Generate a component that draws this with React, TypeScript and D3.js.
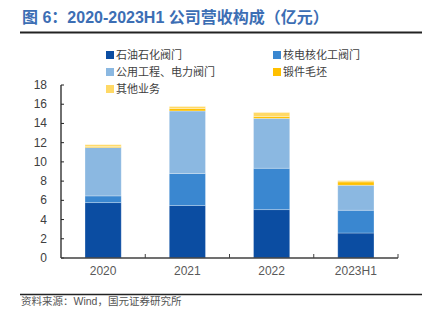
import React from "react";
import * as d3 from "d3";

const categories = ["2020", "2021", "2022", "2023H1"];
const seriesNames = ["石油石化阀门", "核电核化工阀门", "公用工程、电力阀门", "锻件毛坯", "其他业务"];
const petro = [5.76, 5.45, 5.03, 2.6];
const nuclear = [0.7, 3.33, 4.31, 2.37];
const utility = [5.03, 6.52, 5.19, 2.6];
const forging = [0.1, 0.25, 0.19, 0.35];
const other = [0.2, 0.21, 0.42, 0.13];
const yTicks = [0, 2, 4, 6, 8, 10, 12, 14, 16, 18];
const colors = ["#0B4DA2", "#3A87D0", "#8BB8E1", "#FFC000", "#FFD966"];

const W = 428;
const H = 325;
const plot = { left: 61, right: 398, top: 85, bottom: 258 };
const cjk = "'Noto Sans CJK SC', sans-serif";
const latin = "'Liberation Sans', Arial, sans-serif";

export default function App() {
  const x = d3.scaleBand().domain(categories).range([plot.left, plot.right]).paddingInner(0.57).paddingOuter(0.285);
  const y = d3.scaleLinear().domain([0, 18]).range([plot.bottom, plot.top]);
  const table = categories.map((c, i) => ({
    cat: c,
    s0: petro[i],
    s1: nuclear[i],
    s2: utility[i],
    s3: forging[i],
    s4: other[i],
  }));
  const stack = d3.stack<any>().keys(["s0", "s1", "s2", "s3", "s4"])(table);
  const step = (plot.right - plot.left) / categories.length;
  const legendPos = [
    [106, 55],
    [273, 55],
    [106, 72],
    [273, 72],
    [106, 89],
  ];
  return (
    <svg width={W} height={H} style={{ position: "absolute", left: 0, top: 0, background: "#fff" }}>
      <text x={22} y={23} fill="#3C6EB4" fontSize={16} fontWeight="bold" fontFamily={`${latin.split(",")[0]}, ${cjk}`}>
        图 6：2020-2023H1 公司营收构成（亿元）
      </text>
      <line x1={20} x2={422} y1={32.5} y2={32.5} stroke="#222" strokeWidth={2} />
      {stack.map((layer, li) =>
        layer.map((d, i) => {
          const x0 = x(categories[i])!;
          return (
            <rect
              key={`${li}-${i}`}
              x={x0}
              y={y(d[1])}
              width={x.bandwidth()}
              height={Math.max(0, y(d[0]) - y(d[1]))}
              fill={colors[li]}
              stroke="#fff"
              strokeOpacity={0.35}
              strokeWidth={0.8}
            />
          );
        })
      )}
      <line x1={plot.left} x2={plot.left} y1={plot.top} y2={plot.bottom} stroke="#222" strokeWidth={1.3} />
      {yTicks.map((t) => (
        <g key={t}>
          <line x1={plot.left} x2={plot.left + 3} y1={y(t)} y2={y(t)} stroke="#222" strokeWidth={1} />
          <text x={47} y={y(t) + 4} textAnchor="end" fontSize={12} fill="#404040" fontFamily={latin}>
            {t}
          </text>
        </g>
      ))}
      <line x1={plot.left} x2={plot.right} y1={plot.bottom} y2={plot.bottom} stroke="#404040" strokeWidth={1.5} />
      {categories.map((c, i) => (
        <g key={c}>
          <line
            x1={plot.left + step * (i + 1)}
            x2={plot.left + step * (i + 1)}
            y1={plot.bottom}
            y2={plot.bottom - 4}
            stroke="#404040"
            strokeWidth={1}
          />
          <text
            x={x(c)! + x.bandwidth() / 2}
            y={275}
            textAnchor="middle"
            fontSize={12}
            fill="#595959"
            fontFamily={latin}
          >
            {c}
          </text>
        </g>
      ))}
      {seriesNames.map((n, i) => (
        <g key={n}>
          <rect x={legendPos[i][0]} y={legendPos[i][1] - 4} width={8} height={8} fill={colors[i]} />
          <text
            x={legendPos[i][0] + 10}
            y={legendPos[i][1] + 4}
            fontSize={11}
            fill="#404040"
            fontFamily={cjk}
          >
            {n}
          </text>
        </g>
      ))}
      <line x1={20} x2={422} y1={294.5} y2={294.5} stroke="#222" strokeWidth={1.5} />
      <text x={21} y={305} fontSize={10.5} fill="#555" fontFamily={`${latin.split(",")[0]}, ${cjk}`}>
        资料来源：Wind，国元证券研究所
      </text>
    </svg>
  );
}
